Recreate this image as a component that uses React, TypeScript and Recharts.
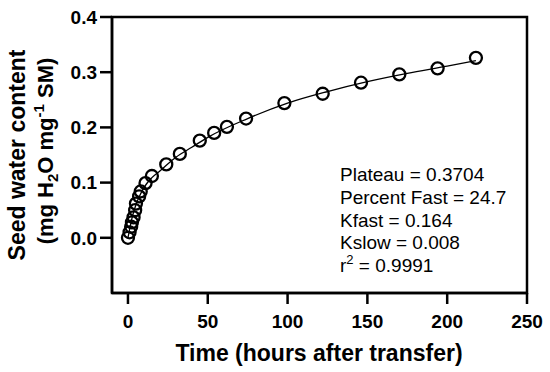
import React from 'react';
import {
  ComposedChart,
  Scatter,
  Line,
  XAxis,
  YAxis,
  ReferenceArea,
} from 'recharts';

// measured points: hours after transfer vs seed water content
const hours = [0, 1, 2, 2.5, 3.5, 4.5, 5, 7, 8, 11, 15, 24, 32.5, 45, 54, 62, 74, 98, 122, 146, 170, 194, 218];
const water = [0.0, 0.01, 0.02, 0.028, 0.037, 0.05, 0.062, 0.075, 0.084, 0.099, 0.112, 0.133, 0.152, 0.176, 0.19, 0.201, 0.216, 0.244, 0.261, 0.281, 0.296, 0.307, 0.326];

// two-phase fit curve
const fitHours = [0, 1, 2, 3, 5, 7, 10, 15, 20, 30, 40, 50, 75, 100, 125, 150, 175, 200, 218];
const fitWater = [0, 0.015, 0.029, 0.041, 0.06, 0.074, 0.091, 0.109, 0.121, 0.146, 0.164, 0.182, 0.216, 0.244, 0.265, 0.283, 0.298, 0.311, 0.321];

const xTicks = [0, 50, 100, 150, 200, 250];
const yTicks = [0, 0.1, 0.2, 0.3, 0.4];

const fitLines = ['Plateau = 0.3704', 'Percent Fast = 24.7', 'Kfast = 0.164', 'Kslow = 0.008'];

const points = hours.map((t, i) => ({ t, y: water[i] }));
const curve = fitHours.map((t, i) => ({ t, y: fitWater[i] }));

const FONT = '"Liberation Sans", Arial, sans-serif';

const OpenCircle = (props: any) => {
  const { cx, cy } = props;
  return <circle cx={cx} cy={cy} r={6} fill="none" stroke="#000" strokeWidth={2.3} />;
};

export default function App() {
  return (
    <div style={{ position: 'absolute', left: 0, top: 0, width: 550, height: 372, background: '#fff' }}>
      <ComposedChart
        width={550}
        height={372}
        margin={{ top: 17, right: 23, bottom: 39, left: 62 }}
        style={{ fontFamily: FONT }}
      >
        <XAxis
          type="number"
          dataKey="t"
          domain={[-10, 250]}
          ticks={xTicks}
          allowDataOverflow
          height={40}
          tickSize={11}
          tickMargin={11}
          axisLine={{ stroke: '#000', strokeWidth: 2.5 }}
          tickLine={{ stroke: '#000', strokeWidth: 2.5 }}
          tick={{ fill: '#000', fontSize: 19, fontWeight: 'bold', fontFamily: FONT }}
        />
        <YAxis
          type="number"
          dataKey="y"
          domain={[-0.1, 0.4]}
          ticks={yTicks}
          allowDataOverflow
          width={50}
          tickSize={12}
          tickMargin={3}
          tickFormatter={(v: number) => v.toFixed(1)}
          axisLine={{ stroke: '#000', strokeWidth: 2.5 }}
          tickLine={{ stroke: '#000', strokeWidth: 2.5 }}
          tick={{ fill: '#000', fontSize: 19, fontWeight: 'bold', fontFamily: FONT }}
        />
        <ReferenceArea
          x1={-10}
          x2={250}
          y1={-0.1}
          y2={0.4}
          fill="none"
          stroke="#000"
          strokeWidth={2.5}
          ifOverflow="visible"
        />
        <Line
          data={curve}
          dataKey="y"
          type="monotone"
          stroke="#000"
          strokeWidth={1.3}
          dot={false}
          activeDot={false}
          isAnimationActive={false}
        />
        <Scatter data={points} dataKey="y" shape={OpenCircle} isAnimationActive={false} />
      </ComposedChart>
      <svg
        width={550}
        height={372}
        style={{ position: 'absolute', left: 0, top: 0, pointerEvents: 'none', fontFamily: FONT }}
      >
        <text
          transform="translate(25,155) rotate(-90)"
          textAnchor="middle"
          fontSize={23}
          fontWeight="bold"
          fill="#000"
        >
          Seed water content
        </text>
        <text
          transform="translate(53,151) rotate(-90)"
          textAnchor="middle"
          fontSize={22}
          fontWeight="bold"
          fill="#000"
        >
          (mg H
          <tspan fontSize={15} dy={5}>2</tspan>
          <tspan dy={-5}>O mg</tspan>
          <tspan fontSize={15} dy={-9}>-1</tspan>
          <tspan dy={9}> SM)</tspan>
        </text>
        <text x={319} y={361} textAnchor="middle" fontSize={23} fontWeight="bold" fill="#000">
          Time (hours after transfer)
        </text>
        {fitLines.map((s, i) => (
          <text key={s} x={340} y={181 + i * 22.8} fontSize={19} fill="#000">
            {s}
          </text>
        ))}
        <text x={340} y={272} fontSize={19} fill="#000">
          r<tspan fontSize={13} dy={-8}>2</tspan>
          <tspan dy={8}> = 0.9991</tspan>
        </text>
      </svg>
    </div>
  );
}
